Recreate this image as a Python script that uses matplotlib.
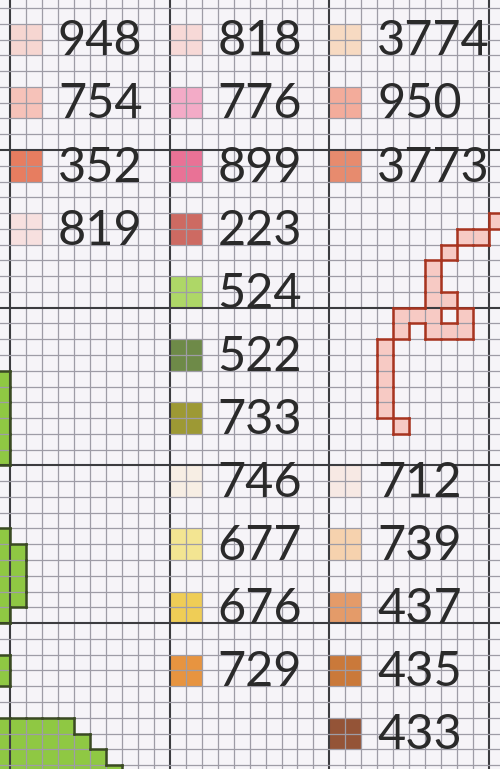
import matplotlib
matplotlib.use("Agg")
import matplotlib.pyplot as plt
from matplotlib.patches import Rectangle

# --- legend data: DMC numbers, colours and their row (top of the 2x2 swatch) ---
left_codes = ["948", "754", "352", "819"]
left_colors = ["#f7d3cd", "#f6bdb3", "#e6704f", "#f8dedd"]
left_rows = [-8, -4, 0, 4]

mid_codes = ["818", "776", "899", "223", "524", "522", "733",
             "746", "677", "676", "729"]
mid_colors = ["#f8d6d4", "#f3a3c2", "#e8648c", "#c95b52", "#a6d457",
              "#5f7f35", "#948f1e", "#f8eee2", "#f3e487", "#efc944", "#e68a2c"]
mid_rows = [-8, -4, 0, 4, 8, 12, 16, 20, 24, 28, 32]

right_codes = ["3774", "950", "3773", "712", "739", "437", "435", "433"]
right_colors = ["#f8d8bd", "#f3a591", "#e6805f", "#f8e8e2", "#f6cfa6",
                "#e2925a", "#c66c25", "#8a4222"]
right_rows = [-8, -4, 0, 20, 24, 28, 32, 36]

col_starts = [0, 10, 20]

# --- stitched pattern cells (col, row) ---
pink_cells = [(30, 4), (31, 4), (28, 5), (29, 5), (27, 6), (26, 7), (26, 8),
              (26, 9), (27, 9), (24, 10), (25, 10), (26, 10), (28, 10),
              (24, 11), (26, 11), (27, 11), (28, 11),
              (23, 12), (23, 13), (23, 14), (23, 15), (23, 16), (24, 17)]
green_cells = ([(-1, r) for r in range(14, 20)]
               + [(-1, r) for r in range(24, 30)]
               + [(0, r) for r in range(25, 29)]
               + [(-1, 32), (-1, 33)]
               + [(c, 36) for c in range(-1, 4)]
               + [(c, 37) for c in range(-1, 5)]
               + [(c, 38) for c in range(-1, 6)]
               + [(c, 39) for c in range(-1, 7)])

x0, x1 = -0.626, 30.68
y0, y1 = -9.51, 39.25

fig = plt.figure(figsize=(5.0, 7.69), dpi=100)
ax = fig.add_axes([0, 0, 1, 1])
fig.patch.set_facecolor("#f6f4f8")
ax.set_facecolor("#f6f4f8")
ax.set_xlim(x0, x1)
ax.set_ylim(y1, y0)
ax.axis("off")


def draw_cells(cells, fill, edge, lw):
    s = set(cells)
    for c, r in cells:
        ax.add_patch(Rectangle((c, r), 1, 1, facecolor=fill, edgecolor="none", zorder=2))
    # outline only the outer edges of the stitched area
    for c, r in cells:
        if (c, r - 1) not in s:
            ax.plot([c, c + 1], [r, r], color=edge, lw=lw, zorder=4, solid_capstyle="projecting")
        if (c, r + 1) not in s:
            ax.plot([c, c + 1], [r + 1, r + 1], color=edge, lw=lw, zorder=4, solid_capstyle="projecting")
        if (c - 1, r) not in s:
            ax.plot([c, c], [r, r + 1], color=edge, lw=lw, zorder=4, solid_capstyle="projecting")
        if (c + 1, r) not in s:
            ax.plot([c + 1, c + 1], [r, r + 1], color=edge, lw=lw, zorder=4, solid_capstyle="projecting")


draw_cells(pink_cells, "#f7cac4", "#a8341f", 1.8)
draw_cells(green_cells, "#8fc843", "#3a4a22", 1.8)

# grid
for c in range(-1, 32):
    thick = c % 10 == 0
    ax.axvline(c, color="#3c3c40" if thick else "#9e9ca6",
               lw=1.5 if thick else 0.9, zorder=3)
for r in range(-10, 41):
    thick = r % 10 == 0
    ax.axhline(r, color="#3c3c40" if thick else "#9e9ca6",
               lw=1.5 if thick else 0.9, zorder=3)

# legend swatches + numbers
for start, codes, colors, rows in zip(col_starts,
                                      [left_codes, mid_codes, right_codes],
                                      [left_colors, mid_colors, right_colors],
                                      [left_rows, mid_rows, right_rows]):
    for code, col, row in zip(codes, colors, rows):
        ax.add_patch(Rectangle((start, row), 2, 2, facecolor=col,
                               edgecolor="none", alpha=0.9, zorder=2))
        ax.text(start + 3.0, row + 2.0, code, fontsize=35, family="Lato",
                fontweight="normal", color="#2a2a2a", va="baseline", ha="left",
                zorder=5)

fig.savefig("out.png", dpi=100, facecolor=fig.get_facecolor())
